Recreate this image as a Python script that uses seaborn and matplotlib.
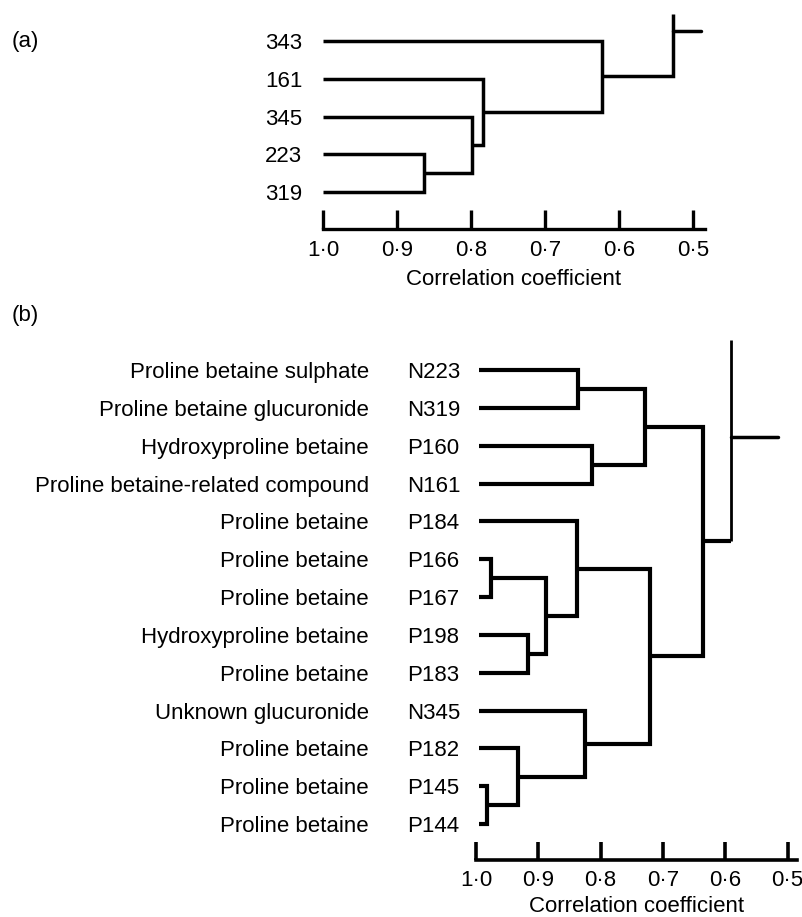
import matplotlib
matplotlib.use("Agg")
import matplotlib.pyplot as plt
import seaborn as sns

# ---- panel (a) ----
leaves_a = ["343", "161", "345", "223", "319"]
# linkage style: child index >= n means an earlier merge (index - n)
merges_a = [(3, 4, 0.864), (2, 5, 0.799), (1, 6, 0.784), (0, 7, 0.623)]
root_a = 0.527
root_a_top = -0.72
root_a_stub = (-0.27, 0.49)

# ---- panel (b) ----
names_b = ["Proline betaine sulphate", "Proline betaine glucuronide",
           "Hydroxyproline betaine", "Proline betaine-related compound",
           "Proline betaine", "Proline betaine", "Proline betaine",
           "Hydroxyproline betaine", "Proline betaine", "Unknown glucuronide",
           "Proline betaine", "Proline betaine", "Proline betaine"]
codes_b = ["N223", "N319", "P160", "N161", "P184", "P166", "P167",
           "P198", "P183", "N345", "P182", "P145", "P144"]
merges_b = [(0, 1, 0.836), (2, 3, 0.814), (13, 14, 0.729),
            (5, 6, 0.976), (7, 8, 0.917), (16, 17, 0.888), (4, 18, 0.838),
            (11, 12, 0.982), (10, 20, 0.933), (9, 21, 0.825),
            (19, 22, 0.721), (15, 23, 0.636)]
root_b = 0.591
root_b_top = -0.79
root_b_stub = (1.77, 0.515)

ticks = [1.0, 0.9, 0.8, 0.7, 0.6, 0.5]
tick_labels = ["1·0", "0·9", "0·8", "0·7", "0·6", "0·5"]

sns.set_theme(style="white")
plt.rcParams["font.family"] = ["Liberation Sans", "DejaVu Sans"]
plt.rcParams["text.color"] = "black"

W, H = 803, 917
FS = 16


def px_axes(fig, left, top, right, bottom):
    return fig.add_axes([left / W, 1 - bottom / H, (right - left) / W, (bottom - top) / H])


def draw_dendro(ax, n, merges, leaf_r, lw):
    pos = {i: (float(i), leaf_r) for i in range(n)}
    for k, (a, b, r) in enumerate(merges):
        ya, ra = pos[a]
        yb, rb = pos[b]
        ax.plot([ra, r, r, rb], [ya, ya, yb, yb], color="black", lw=lw,
                solid_joinstyle="miter", solid_capstyle="butt")
        pos[n + k] = ((ya + yb) / 2, r)
    return pos[n + len(merges) - 1]


def style_axis(ax, lw, tick_len, pad, labelpad):
    sns.despine(ax=ax, left=True)
    ax.spines["bottom"].set_linewidth(lw)
    ax.spines["bottom"].set_color("black")
    ax.set_xticks(ticks)
    ax.set_xticklabels(tick_labels, fontsize=FS)
    ax.tick_params(axis="x", bottom=True, direction="in", length=tick_len,
                   width=lw, pad=pad, colors="black")
    ax.set_xlabel("Correlation coefficient", fontsize=FS, labelpad=labelpad, color="black")
    ax.set_facecolor("none")


fig = plt.figure(figsize=(W / 100, H / 100), dpi=100)

# panel (a)
ax1 = px_axes(fig, 323, 5, 705, 229)
ax1.set_xlim(1.0, 0.484)
ax1.set_ylim(4.98, -0.954)
ya, ra = draw_dendro(ax1, len(leaves_a), merges_a, 1.0, 2.5)
ax1.plot([ra, root_a, root_a], [ya, ya, root_a_top], color="black", lw=2.5,
         solid_joinstyle="miter", solid_capstyle="butt")
ax1.plot([root_a, root_a_stub[1]], [root_a_stub[0], root_a_stub[0]], color="black", lw=2.5)
ax1.set_yticks(range(len(leaves_a)))
ax1.set_yticklabels(leaves_a, fontsize=FS)
ax1.tick_params(axis="y", length=0, pad=15, labelcolor="black")
style_axis(ax1, 2.4, 13.7, 8, 5.5)

# panel (b)
ax2 = px_axes(fig, 476, 330, 797, 860)
ax2.set_xlim(1.0, 0.485)
ax2.set_ylim(12.95, -1.057)
yb, rb = draw_dendro(ax2, len(codes_b), merges_b, 0.995, 3.0)
ax2.plot([rb, root_b], [yb, yb], color="black", lw=3.0, solid_capstyle="butt")
ax2.plot([root_b, root_b], [yb, root_b_top], color="black", lw=2.0, solid_capstyle="butt")
ax2.plot([root_b, root_b_stub[1]], [root_b_stub[0], root_b_stub[0]], color="black", lw=2.5)
ax2.set_yticks(range(len(codes_b)))
ax2.set_yticklabels(names_b, fontsize=FS)
ax2.tick_params(axis="y", length=0, pad=77, labelcolor="black")
for i, code in enumerate(codes_b):
    ax2.text(-0.215, i, code, transform=ax2.get_yaxis_transform(), ha="left",
             va="center_baseline", fontsize=FS, color="black")
style_axis(ax2, 2.6, 13.0, 7, 4)

fig.text(12 / W, 1 - 42 / H, "(a)", fontsize=FS, va="center", ha="left")
fig.text(12 / W, 1 - 315 / H, "(b)", fontsize=FS, va="center", ha="left")

fig.savefig("out.png", dpi=100, facecolor="white")
